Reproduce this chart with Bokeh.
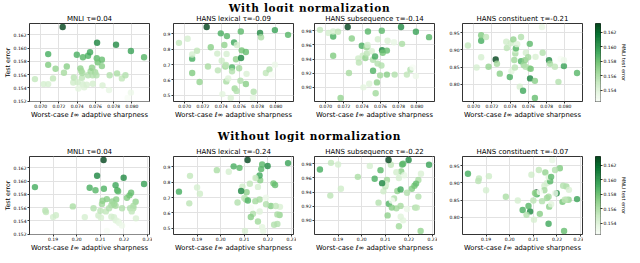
import numpy as np
from bokeh.plotting import figure
from bokeh.models import (Range1d, FixedTicker, PrintfTickFormatter,
                          LinearColorMapper, ColumnDataSource, Div)
from bokeh.layouts import row, column
from bokeh.palettes import Greens256
from bokeh.embed import file_html
from bokeh.resources import INLINE

# ---------------- data (one entry per fine-tuned model) ----------------
sharp_norm = [0.06937, 0.07032, 0.07082, 0.07082, 0.07082, 0.07135, 0.07163, 0.07241,
              0.07255, 0.07286, 0.07357, 0.07364, 0.07396, 0.07406, 0.07413, 0.07435,
              0.07445, 0.07452, 0.07456, 0.07459, 0.07463, 0.07477, 0.07505, 0.07519,
              0.07519, 0.07541, 0.07548, 0.07562, 0.07569, 0.07572, 0.07597, 0.07611,
              0.07615, 0.07618, 0.07625, 0.07671, 0.07671, 0.07678, 0.07749, 0.07756,
              0.07826, 0.07837, 0.07890, 0.07929, 0.07953, 0.07989, 0.07989, 0.08133]
sharp_raw = [0.1870, 0.20342, 0.18233, 0.22123, 0.1900, 0.21233, 0.22493, 0.21137,
             0.21644, 0.21671, 0.20918, 0.1867, 0.20548, 0.1912, 0.21753, 0.21507,
             0.21068, 0.21000, 0.22397, 0.21575, 0.21712, 0.2165, 0.21027, 0.2115,
             0.21918, 0.21644, 0.21575, 0.21096, 0.22397, 0.21466, 0.21466, 0.21370,
             0.21753, 0.20863, 0.22233, 0.22301, 0.21274, 0.22507, 0.2180, 0.22260,
             0.21986, 0.19836, 0.22329, 0.20712, 0.21274, 0.22849, 0.21918, 0.20795]
mnli_err = [0.15533, 0.15457, 0.15910, 0.15748, 0.15457, 0.15543, 0.15690, 0.16319,
            0.15629, 0.15724, 0.15481, 0.15557, 0.15900, 0.15486, 0.15390, 0.15695,
            0.15657, 0.15552, 0.15624, 0.15457, 0.15862, 0.15410, 0.15448, 0.15886,
            0.15590, 0.15938, 0.15652, 0.15705, 0.15590, 0.15462, 0.15638, 0.15590,
            0.15848, 0.16081, 0.15786, 0.15824, 0.15729, 0.15438, 0.15367, 0.15590,
            0.16052, 0.15619, 0.15543, 0.15590, 0.15248, 0.15957, 0.15329, 0.15862]
hans_lexical = [0.842, 0.869, 0.739, 0.646, 0.766, 0.791, 0.587, 0.945,
                0.688, 0.813, 0.772, 0.663, 0.904, 0.725, 0.508, 0.828,
                0.688, 0.698, 0.591, 0.770, 0.886, 0.610, 0.483, 0.681,
                0.657, 0.844, 0.545, 0.735, 0.529, 0.828, 0.677, 0.595,
                0.916, 0.743, 0.793, 0.782, 0.574, 0.640, 0.483, 0.523,
                0.906, 0.879, 0.646, 0.668, 0.635, 0.925, 0.700, 0.894]
hans_subsequence = [0.9813, 0.977, 0.972, 0.9447, 0.979, 0.9787, 0.885, 0.9853,
                    0.9204, 0.969, 0.941, 0.935, 0.9588, 0.9447, 0.900, 0.9416,
                    0.957, 0.948, 0.957, 0.960, 0.979, 0.905, 0.951, 0.9235,
                    0.939, 0.9438, 0.8917, 0.907, 0.9336, 0.968, 0.917, 0.931,
                    0.980, 0.9526, 0.949, 0.952, 0.918, 0.966, 0.9637, 0.918,
                    0.9853, 0.9615, 0.918, 0.925, 0.928, 0.9787, 0.916, 0.971]
hans_constituent = [0.913, 0.849, 0.927, 0.943, 0.879, 0.938, 0.851, 0.8723,
                    0.860, 0.831, 0.924, 0.906, 0.821, 0.920, 0.838, 0.931,
                    0.871, 0.849, 0.890, 0.900, 0.905, 0.917, 0.793, 0.867,
                    0.938, 0.781, 0.856, 0.870, 0.851, 0.892, 0.879, 0.847,
                    0.918, 0.817, 0.845, 0.760, 0.810, 0.880, 0.967, 0.892,
                    0.870, 0.860, 0.851, 0.807, 0.874, 0.853, 0.870, 0.833]

row_titles = ["With logit normalization", "Without logit normalization"]
titles_norm = ["MNLI \u03c4=0.04", "HANS lexical \u03c4=-0.09",
               "HANS subsequence \u03c4=-0.14", "HANS constituent \u03c4=-0.21"]
titles_raw = ["MNLI \u03c4=0.04", "HANS lexical \u03c4=-0.24",
              "HANS subsequence \u03c4=-0.22", "HANS constituent \u03c4=-0.07"]
x_label = "Worst-case \u2113\u221e adaptive sharpness"
y_label = "Test error"
cbar_label = "MNLI test error"

xticks_norm = [0.070, 0.072, 0.074, 0.076, 0.078, 0.080]
xticks_raw = [0.19, 0.20, 0.21, 0.22, 0.23]
yticks_mnli = [0.152, 0.154, 0.156, 0.158, 0.160, 0.162]
yticks_lex = [0.5, 0.6, 0.7, 0.8, 0.9]
yticks_sub = [0.90, 0.92, 0.94, 0.96, 0.98]
yticks_con = [0.80, 0.85, 0.90, 0.95]
cbar_ticks = [0.154, 0.156, 0.158, 0.160, 0.162]

# ---------------- helpers ----------------
FONT = "DejaVu Sans"
FRAME_W, FRAME_H = 120, 78
TOP, BOTTOM = 11, 17
PAGE_W = 619

mapper = LinearColorMapper(palette=list(reversed(Greens256)),
                           low=min(mnli_err), high=max(mnli_err))


def padded(vals):
    lo, hi = min(vals), max(vals)
    m = 0.05 * (hi - lo)
    return Range1d(lo - m, hi + m)


def style_axis(ax, ticks, fmt, standoff):
    ax.ticker = FixedTicker(ticks=ticks)
    ax.formatter = PrintfTickFormatter(format=fmt)
    ax.major_label_text_font = FONT
    ax.major_label_text_font_size = "4.5px"
    ax.major_label_text_color = "#000000"
    ax.major_tick_out = 2
    ax.major_tick_in = 0
    ax.minor_tick_out = 0
    ax.minor_tick_in = 0
    ax.major_tick_line_color = "#000000"
    ax.major_tick_line_width = 0.8
    ax.axis_line_color = None
    ax.major_label_standoff = standoff
    ax.axis_label_standoff = 0
    ax.axis_label_text_font = FONT
    ax.axis_label_text_font_style = "normal"
    ax.axis_label_text_color = "#000000"


def panel(xv, yv, title, xr, yr, xticks, xfmt, yticks, yfmt, left, right, ylab=None):
    p = figure(frame_width=FRAME_W, frame_height=FRAME_H,
               min_border_left=left, min_border_right=right,
               min_border_top=TOP, min_border_bottom=BOTTOM,
               x_range=xr, y_range=yr, title=title,
               output_backend="svg", toolbar_location=None)
    p.title.text_font = FONT
    p.title.text_font_size = "7px"
    p.title.text_font_style = "normal"
    p.title.text_color = "#000000"
    p.title.align = "center"
    p.title.standoff = 2
    p.outline_line_color = "#000000"
    p.outline_line_width = 0.8
    p.background_fill_color = "white"
    p.border_fill_color = "white"
    p.grid.grid_line_color = "#e2e2e2"
    p.grid.grid_line_width = 1
    style_axis(p.xaxis[0], xticks, xfmt, 0)
    style_axis(p.yaxis[0], yticks, yfmt, 1)
    p.xaxis.axis_label = x_label
    p.xaxis.axis_label_text_font_size = "6.8px"
    if ylab:
        p.yaxis.axis_label = ylab
        p.yaxis.axis_label_text_font_size = "6.3px"
    src = ColumnDataSource(dict(x=xv, y=yv, c=mnli_err))
    p.scatter("x", "y", source=src, size=6.4,
              fill_color={"field": "c", "transform": mapper},
              line_color=None, fill_alpha=0.8)
    return p


def colorbar():
    cmin, cmax = min(mnli_err), max(mnli_err)
    cb = figure(frame_width=5, frame_height=FRAME_H,
                min_border_left=12, min_border_right=24,
                min_border_top=TOP, min_border_bottom=BOTTOM,
                x_range=Range1d(0, 1), y_range=Range1d(cmin, cmax),
                y_axis_location="right",
                output_backend="svg", toolbar_location=None)
    lev = np.linspace(cmin, cmax, 129)
    src = ColumnDataSource(dict(b=lev[:-1], t=lev[1:], m=(lev[:-1] + lev[1:]) / 2))
    cb.quad(left=0, right=1, bottom="b", top="t", source=src,
            fill_color={"field": "m", "transform": mapper},
            line_color={"field": "m", "transform": mapper}, line_width=0.5)
    cb.xaxis.visible = False
    cb.grid.visible = False
    cb.outline_line_color = "#000000"
    cb.outline_line_width = 0.8
    style_axis(cb.yaxis[0], cbar_ticks, "%.3f", 1)
    cb.yaxis.axis_label = cbar_label
    cb.yaxis.axis_label_text_font_size = "5px"
    cb.yaxis.axis_label_standoff = 2
    return cb


def make_row(xv, titles, xticks, xfmt):
    xr = padded(xv)
    p1 = panel(xv, mnli_err, titles[0], xr, padded(mnli_err), xticks, xfmt,
               yticks_mnli, "%.3f", 24, 3, ylab=y_label)
    p2 = panel(xv, hans_lexical, titles[1], xr, padded(hans_lexical), xticks, xfmt,
               yticks_lex, "%.1f", 21, 3)
    p3 = panel(xv, hans_subsequence, titles[2], xr, padded(hans_subsequence), xticks, xfmt,
               yticks_sub, "%.2f", 18, 3)
    p4 = panel(xv, hans_constituent, titles[3], xr, padded(hans_constituent), xticks, xfmt,
               yticks_con, "%.2f", 25, 1)
    return row(p1, p2, p3, p4, colorbar())


def heading(text, height, pad):
    html = ('<div style="display:block;width:%dpx;font-family:\'DejaVu Serif\';'
            'font-weight:bold;font-size:10.5px;letter-spacing:0.7px;text-align:center;'
            'line-height:8px;padding-top:%dpx;color:#000">%s</div>' % (PAGE_W, pad, text))
    return Div(text=html, width=PAGE_W, height=height, margin=0,
               styles={"text-align": "center", "width": "%dpx" % PAGE_W})


layout = column(
    heading(row_titles[0], 11, 0),
    make_row(sharp_norm, titles_norm, xticks_norm, "%.3f"),
    heading(row_titles[1], 23, 11),
    make_row(sharp_raw, titles_raw, xticks_raw, "%.2f"),
)

open("out.html", "w").write(file_html(layout, INLINE))
